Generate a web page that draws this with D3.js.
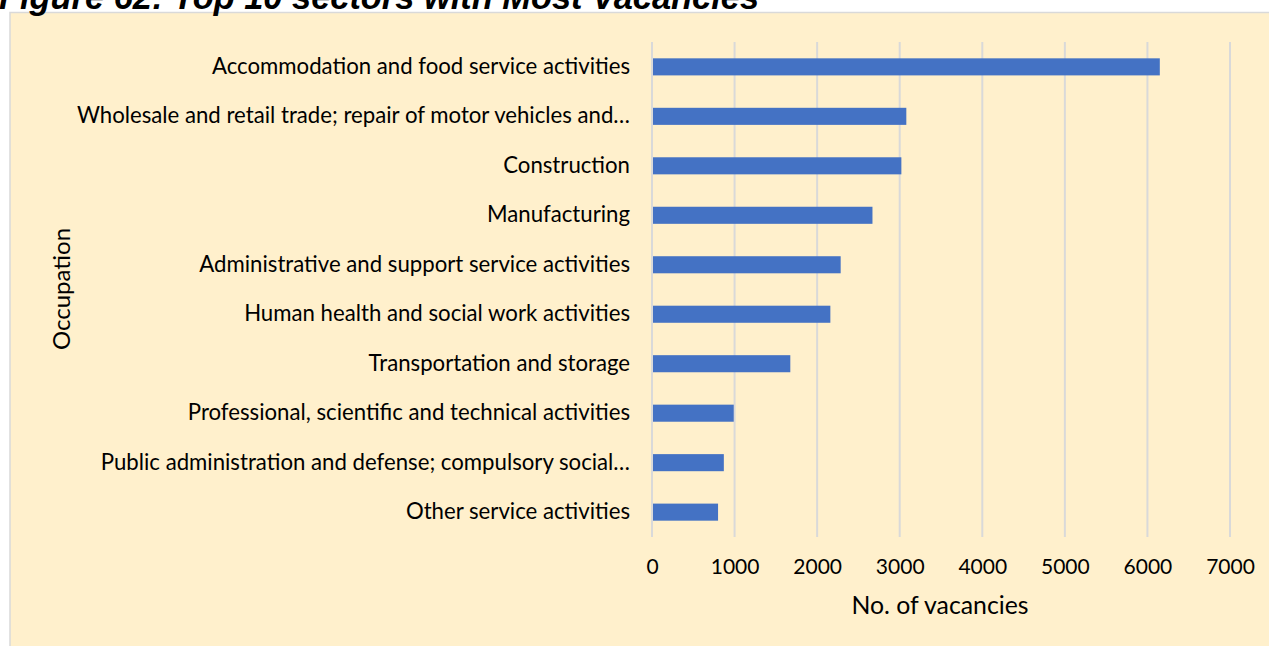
<!DOCTYPE html>
<html>
<head>
<meta charset="utf-8">
<script src="https://cdn.jsdelivr.net/npm/d3@7"></script>
<style>
  html, body { margin: 0; padding: 0; background: #ffffff; }
  svg { display: block; }
</style>
</head>
<body>
<script>
const categories = [
  "Accommodation and food service activities",
  "Wholesale and retail trade; repair of motor vehicles and…",
  "Construction",
  "Manufacturing",
  "Administrative and support service activities",
  "Human health and social work activities",
  "Transportation and storage",
  "Professional, scientific and technical activities",
  "Public administration and defense; compulsory social…",
  "Other service activities"
];
const vacancies = [6150, 3080, 3020, 2670, 2285, 2160, 1675, 990, 870, 800];
const xTicks = [0, 1000, 2000, 3000, 4000, 5000, 6000, 7000];
const titleText = "Figure 62: Top 10 sectors with Most Vacancies";
const xTitle = "No. of vacancies";
const yTitle = "Occupation";

const W = 1269, H = 646;
const svg = d3.select("body").append("svg").attr("width", W).attr("height", H);

// chart area background
svg.append("rect")
  .attr("x", 10).attr("y", 12.5).attr("width", W).attr("height", H)
  .attr("fill", "#FFF0CC").attr("stroke", "#D9D9D9").attr("stroke-width", 1.5);

// title (clipped at the top, as in the source)
svg.append("text")
  .attr("x", -1).attr("y", 8.5)
  .attr("font-family", "Liberation Sans, Arial, sans-serif")
  .attr("font-weight", "bold").attr("font-style", "italic")
  .attr("font-size", 34.4).attr("fill", "#000")
  .text(titleText);

const x = d3.scaleLinear().domain([0, 7000]).range([652, 1230]);
const y = d3.scaleBand().domain(categories).range([42, 537]).paddingInner(0.655).paddingOuter(0.33);

// gridlines
svg.append("g").selectAll("line").data(xTicks).join("line")
  .attr("x1", d => x(d)).attr("x2", d => x(d))
  .attr("y1", 42).attr("y2", 537)
  .attr("stroke", "#D9D9D9").attr("stroke-width", 2);

// bars
svg.append("g").selectAll("rect").data(vacancies).join("rect")
  .attr("x", x(0) + 1)
  .attr("y", (d, i) => y(categories[i]))
  .attr("width", d => x(d) - x(0) - 1)
  .attr("height", y.bandwidth())
  .attr("fill", "#4472C4");

// x axis tick labels
const xAxis = d3.axisBottom(x).tickValues(xTicks).tickSize(0).tickPadding(0).tickFormat(d3.format("d"));
const gx = svg.append("g").attr("transform", "translate(0,559)").call(xAxis);
gx.select(".domain").remove();
gx.selectAll("text")
  .attr("font-family", "Lato, sans-serif").attr("font-size", 21).attr("fill", "#000");

// y axis labels
const yAxis = d3.axisLeft(y).tickSize(0).tickPadding(22);
const gy = svg.append("g").attr("transform", `translate(${x(0)},0)`).call(yAxis);
gy.select(".domain").remove();
gy.selectAll("text")
  .attr("font-family", "Lato, sans-serif").attr("font-size", 22.2).attr("fill", "#000");

// axis titles
svg.append("text")
  .attr("x", 940).attr("y", 614)
  .attr("text-anchor", "middle")
  .attr("font-family", "Lato, sans-serif").attr("font-size", 24.8).attr("fill", "#000")
  .text(xTitle);

svg.append("text")
  .attr("transform", "translate(70,289) rotate(-90)")
  .attr("text-anchor", "middle")
  .attr("font-family", "Lato, sans-serif").attr("font-size", 24).attr("fill", "#000")
  .text(yTitle);
</script>
</body>
</html>
